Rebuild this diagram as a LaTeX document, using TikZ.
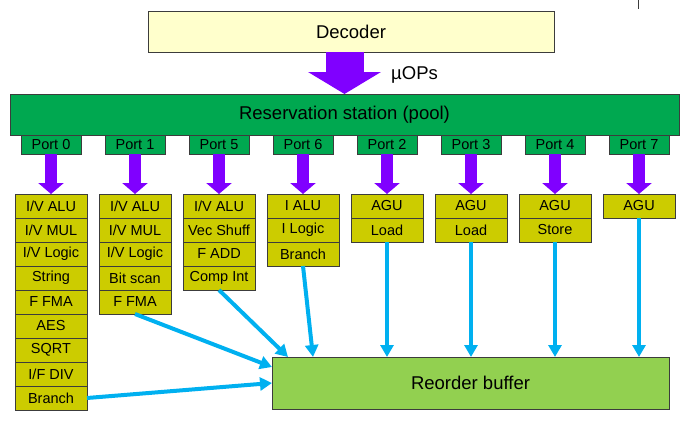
\documentclass[tikz,border=0pt]{standalone}
\usepackage{fontspec}
\setmainfont{Liberation Sans}
\usetikzlibrary{positioning,arrows.meta}
\definecolor{decoderyellow}{RGB}{255,255,204}
\definecolor{rsgreen}{RGB}{0,168,80}
\definecolor{unitolive}{RGB}{204,204,0}
\definecolor{robgreen}{RGB}{146,208,80}
\definecolor{uoppurple}{RGB}{128,0,255}
\definecolor{retireblue}{RGB}{0,176,240}
\definecolor{boxgray}{RGB}{60,60,60}

\begin{document}
\begin{tikzpicture}[x=1pt, y=-1pt,
    box/.style={draw=boxgray, line width=0.8pt, outer sep=0pt, inner sep=0pt},
    bigtext/.style={font=\fontsize{18.5}{22}\selectfont},
    unit/.style={box, fill=unitolive, minimum width=72pt, minimum height=24pt, font=\fontsize{14.5}{16}\selectfont},
    portbox/.style={box, fill=rsgreen, minimum width=60pt, minimum height=19pt, font=\fontsize{14.5}{16}\selectfont},
    uop/.style={uoppurple, line width=12pt, -{Triangle[length=11pt, width=25pt]}},
    retire/.style={retireblue, line width=4pt, -{Triangle[length=12pt, width=13pt]}}]
    \useasboundingbox (0,0) rectangle (687,420);

    % Decoder and reservation station
    \node[box, bigtext, fill=decoderyellow, minimum width=406pt, minimum height=41pt] (decoder) at (351,31.5) {Decoder};
    \node[box, bigtext, fill=rsgreen, minimum width=669pt, minimum height=41pt] (rs) at (344.5,114.5) {Reservation station (pool)};
    \draw[uoppurple, line width=38pt, -{Triangle[length=22pt, width=72pt]}] (decoder.south -| rs.north) -- (rs.north);
    \node[bigtext, anchor=west, inner sep=0pt] (uopslabel) at (391,75) {µOPs};

    % Stray mark top right
    \draw[boxgray] (638,0) -- (638,9);

    % Ports
    \node[portbox] (port0) at (51,144.5) {Port 0};
    \node[portbox] (port1) at (135,144.5) {Port 1};
    \node[portbox] (port5) at (219,144.5) {Port 5};
    \node[portbox] (port6) at (303,144.5) {Port 6};
    \node[portbox] (port2) at (387,144.5) {Port 2};
    \node[portbox] (port3) at (471,144.5) {Port 3};
    \node[portbox] (port4) at (555,144.5) {Port 4};
    \node[portbox] (port7) at (639,144.5) {Port 7};

    % Port 0 units
    \node[unit] (alu0) at (51,206) {I/V ALU};
    \node[unit, below=0pt of alu0] (mul0) {I/V MUL};
    \node[unit, below=0pt of mul0] (logic0) {I/V Logic};
    \node[unit, below=0pt of logic0] (string0) {String};
    \node[unit, below=0pt of string0] (fma0) {F FMA};
    \node[unit, below=0pt of fma0] (aes0) {AES};
    \node[unit, below=0pt of aes0] (sqrt0) {SQRT};
    \node[unit, below=0pt of sqrt0] (div0) {I/F DIV};
    \node[unit, below=0pt of div0] (branch0) {Branch};

    % Port 1 units
    \node[unit] (alu1) at (135,206) {I/V ALU};
    \node[unit, below=0pt of alu1] (mul1) {I/V MUL};
    \node[unit, below=0pt of mul1] (logic1) {I/V Logic};
    \node[unit, below=0pt of logic1] (bitscan1) {Bit scan};
    \node[unit, below=0pt of bitscan1] (fma1) {F FMA};

    % Port 5 units
    \node[unit] (alu5) at (219,206) {I/V ALU};
    \node[unit, below=0pt of alu5] (shuff5) {Vec Shuff};
    \node[unit, below=0pt of shuff5] (fadd5) {F ADD};
    \node[unit, below=0pt of fadd5] (compint5) {Comp Int};

    % Port 6 units
    \node[unit] (alu6) at (303,206) {I ALU};
    \node[unit, below=0pt of alu6] (logic6) {I Logic};
    \node[unit, below=0pt of logic6] (branch6) {Branch};

    % Memory ports
    \node[unit] (agu2) at (387,206) {AGU};
    \node[unit, below=0pt of agu2] (load2) {Load};
    \node[unit] (agu3) at (471,206) {AGU};
    \node[unit, below=0pt of agu3] (load3) {Load};
    \node[unit] (agu4) at (555,206) {AGU};
    \node[unit, below=0pt of agu4] (store4) {Store};
    \node[unit] (agu7) at (639,206) {AGU};

    % Issue arrows
    \draw[uop] (port0) -- (alu0);
    \draw[uop] (port1) -- (alu1);
    \draw[uop] (port5) -- (alu5);
    \draw[uop] (port6) -- (alu6);
    \draw[uop] (port2) -- (agu2);
    \draw[uop] (port3) -- (agu3);
    \draw[uop] (port4) -- (agu4);
    \draw[uop] (port7) -- (agu7);

    % Reorder buffer
    \node[box, bigtext, fill=robgreen, minimum width=397pt, minimum height=52pt] (rob) at (470.5,383) {Reorder buffer};

    % Results to reorder buffer
    \draw[retire] (branch0.east) -- (rob.west);
    \draw[retire] (fma1.south) -- ([yshift=16pt]rob.west);
    \draw[retire] (compint5.south) -- ([xshift=16pt]rob.north west);
    \draw[retire] (branch6.south) -- ([xshift=41pt]rob.north west);
    \draw[retire] (load2.south) -- (load2.south |- rob.north);
    \draw[retire] (load3.south) -- (load3.south |- rob.north);
    \draw[retire] (store4.south) -- (store4.south |- rob.north);
    \draw[retire] (agu7.south) -- (agu7.south |- rob.north);
\end{tikzpicture}
\end{document}
